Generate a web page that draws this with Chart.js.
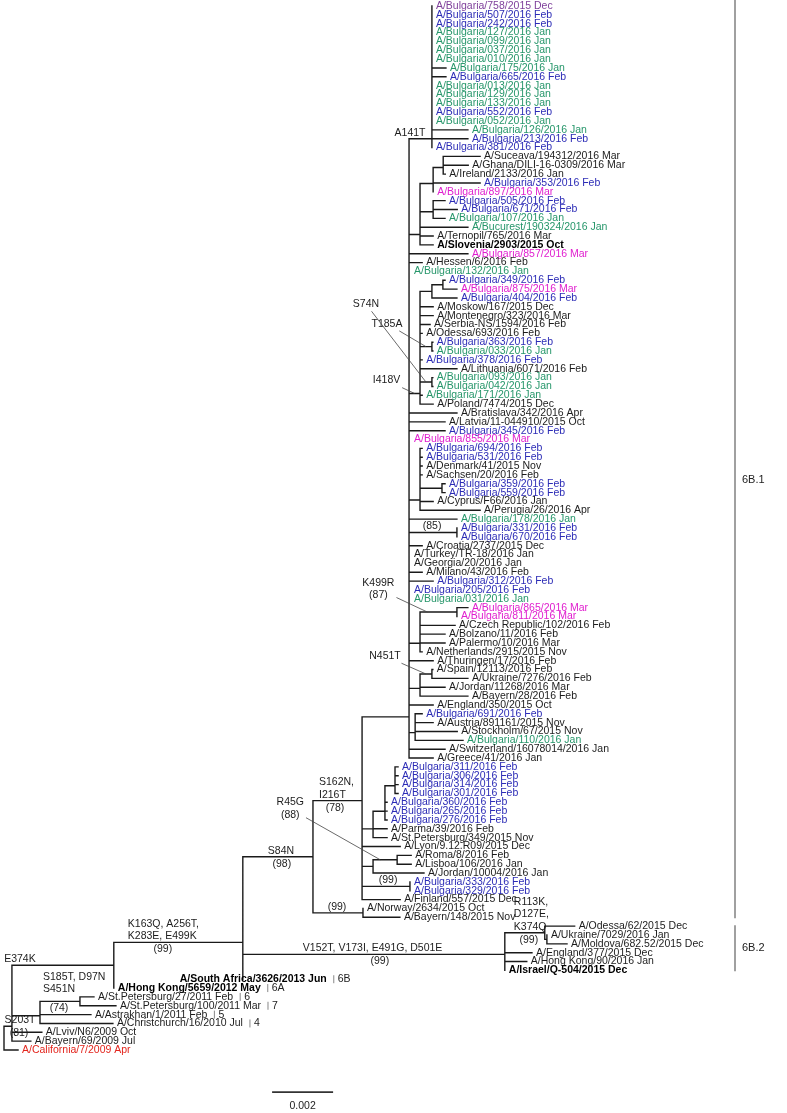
<!DOCTYPE html>
<html>
<head>
<meta charset="utf-8">
<script src="https://cdn.jsdelivr.net/npm/chart.js@4.4.1/dist/chart.umd.min.js"></script>
<style>
html,body{margin:0;padding:0;background:#fff}
#wrap{position:relative;width:787px;height:1113px}
</style>
</head>
<body>
<div id="wrap"><canvas id="tree"></canvas></div>
<script>
// strains, top to bottom (leaf order of the tree)
var strains = [
"A/Bulgaria/758/2015 Dec","A/Bulgaria/507/2016 Feb","A/Bulgaria/242/2016 Feb","A/Bulgaria/127/2016 Jan","A/Bulgaria/099/2016 Jan","A/Bulgaria/037/2016 Jan","A/Bulgaria/010/2016 Jan","A/Bulgaria/175/2016 Jan","A/Bulgaria/665/2016 Feb","A/Bulgaria/013/2016 Jan",
"A/Bulgaria/129/2016 Jan","A/Bulgaria/133/2016 Jan","A/Bulgaria/552/2016 Feb","A/Bulgaria/052/2016 Jan","A/Bulgaria/126/2016 Jan","A/Bulgaria/213/2016 Feb","A/Bulgaria/381/2016 Feb","A/Suceava/194312/2016 Mar","A/Ghana/DILI-16-0309/2016 Mar","A/Ireland/2133/2016 Jan",
"A/Bulgaria/353/2016 Feb","A/Bulgaria/897/2016 Mar","A/Bulgaria/505/2016 Feb","A/Bulgaria/671/2016 Feb","A/Bulgaria/107/2016 Jan","A/Bucurest/190324/2016 Jan","A/Ternopil/765/2016 Mar","A/Slovenia/2903/2015 Oct","A/Bulgaria/857/2016 Mar","A/Hessen/6/2016 Feb",
"A/Bulgaria/132/2016 Jan","A/Bulgaria/349/2016 Feb","A/Bulgaria/875/2016 Mar","A/Bulgaria/404/2016 Feb","A/Moskow/167/2015 Dec","A/Montenegro/323/2016 Mar","A/Serbia-NS/1594/2016 Feb","A/Odessa/693/2016 Feb","A/Bulgaria/363/2016 Feb","A/Bulgaria/033/2016 Jan",
"A/Bulgaria/378/2016 Feb","A/Lithuania/6071/2016 Feb","A/Bulgaria/093/2016 Jan","A/Bulgaria/042/2016 Jan","A/Bulgaria/171/2016 Jan","A/Poland/7474/2015 Dec","A/Bratislava/342/2016 Apr","A/Latvia/11-044910/2015 Oct","A/Bulgaria/345/2016 Feb","A/Bulgaria/855/2016 Mar",
"A/Bulgaria/694/2016 Feb","A/Bulgaria/531/2016 Feb","A/Denmark/41/2015 Nov","A/Sachsen/20/2016 Feb","A/Bulgaria/359/2016 Feb","A/Bulgaria/559/2016 Feb","A/Cyprus/F66/2016 Jan","A/Perugia/26/2016 Apr","A/Bulgaria/178/2016 Jan","A/Bulgaria/331/2016 Feb",
"A/Bulgaria/670/2016 Feb","A/Croatia/2737/2015 Dec","A/Turkey/TR-18/2016 Jan","A/Georgia/20/2016 Jan","A/Milano/43/2016 Feb","A/Bulgaria/312/2016 Feb","A/Bulgaria/205/2016 Feb","A/Bulgaria/031/2016 Jan","A/Bulgaria/865/2016 Mar","A/Bulgaria/811/2016 Mar",
"A/Czech Republic/102/2016 Feb","A/Bolzano/11/2016 Feb","A/Palermo/10/2016 Mar","A/Netherlands/2915/2015 Nov","A/Thuringen/17/2016 Feb","A/Spain/12113/2016 Feb","A/Ukraine/7276/2016 Feb","A/Jordan/11268/2016 Mar","A/Bayern/28/2016 Feb","A/England/350/2015 Oct",
"A/Bulgaria/691/2016 Feb","A/Austria/891161/2015 Nov","A/Stockholm/67/2015 Nov","A/Bulgaria/110/2016 Jan","A/Switzerland/16078014/2016 Jan","A/Greece/41/2016 Jan","A/Bulgaria/311/2016 Feb","A/Bulgaria/306/2016 Feb","A/Bulgaria/314/2016 Feb","A/Bulgaria/301/2016 Feb",
"A/Bulgaria/360/2016 Feb","A/Bulgaria/265/2016 Feb","A/Bulgaria/276/2016 Feb","A/Parma/39/2016 Feb","A/St.Petersburg/349/2015 Nov","A/Lyon/9.12.R09/2015 Dec","A/Roma/8/2016 Feb","A/Lisboa/106/2016 Jan","A/Jordan/10004/2016 Jan","A/Bulgaria/333/2016 Feb",
"A/Bulgaria/329/2016 Feb","A/Finland/557/2015 Dec","A/Norway/2634/2015 Oct","A/Bayern/148/2015 Nov","A/Odessa/62/2015 Dec","A/Ukraine/7029/2016 Jan","A/Moldova/682.52/2015 Dec","A/England/377/2015 Dec","A/Hong Kong/90/2016 Jan","A/Israel/Q-504/2015 Dec",
"A/South Africa/3626/2013 Jun","A/Hong Kong/5659/2012 May","A/St.Petersburg/27/2011 Feb","A/St.Petersburg/100/2011 Mar","A/Astrakhan/1/2011 Feb","A/Christchurch/16/2010 Jul","A/Lviv/N6/2009 Oct","A/Bayern/69/2009 Jul","A/California/7/2009 Apr"
];

// one letter per strain: D = Bulgaria Dec 2015, J = Jan 2016, F = Feb 2016, M = Mar 2016,
// K = other, B = reference strain, R = root strain
var groups = ("DFFJJJJJFJ" + "JJFJJFFKKK" + "FMFFJJKBMK" + "JFMFKKKKFJ" + "FKJJJKKKFM" +
              "FFKKFFKKJF" + "FKKKKFFJMM" + "KKKKKKKKKK" + "FKKJKKFFFF" + "FFFKKKKKKF" +
              "FKKKKKKKKB" + "BBKKKKKKR").split("");

// tree topology, leaves are strain indices, branch lengths in 0.0001 substitutions/site
var cladeA141T = "(0:0,1:0,2:0,3:0,4:0,5:0,6:0,7:4.6,8:4.6,9:0,10:0,11:0,12:0,13:0,14:11.8,15:11.8,16:0)nA141T:7.5";
var clade420 = "(((17:12.1,18:8.2,19:0.7):3.3,20:15.4,21:0):4.3,(22:3.9,23:7.9,24:3.9):4.3,25:15.7,26:4.3,27:4.3):3.6";
var cladeI418V = "(((31:0.7,32:4.6):3.6,33:8.2):3.9,34:4.3,35:4.3,36:3.3,37:0.7,(38:0.3,39:0.3)nT185A:3.9,40:0.7,41:12.1,(42:0.3,43:0.3)nS74N:3.9,44:0.7,45:4.3)nI418V:3.6";
var clade694 = "(50:0.7,51:0.7,52:0.7,53:0.7,(54:1.0,55:1.0):7.2,56:4.3,57:19.7):3.6";
var cladeK499R = "((68:3.6,69:0)nK499R:12.1,70:11.5,71:8.2,72:8.2,73:0.7):3.6";
var cladeN451T = "((75:0.3,76:11.8)nN451T:3.9,77:8.2,78:15.7):3.6";
var clade691 = "((80:2.3,81:5.9,82:13.8,83:15.7):2.0,84:11.8,85:7.9):0";
var clade311 = "(((86:1.0,87:1.0,88:1.0,89:1.0):3.3,90:0.7,91:0.7,92:0.7):3.9,93:4.6,94:4.6):3.6";
var cladeR45G = "((96:4.6,97:4.6)nR45G:7.9,98:16.7):3.6";
var clade6B2 = "((104:9.8,(105:0,106:6.6):0.7)nR113K:13.1,107:8.9,(108:7.2,109:0):0)nV152T:85.9";

var backbone = "(" + cladeA141T + "," + clade420 + ",28:19.3,29:4.3,30:0.3," + cladeI418V +
  ",46:15.7,47:11.8,48:11.8,49:0.3," + clade694 + ",58:15.7,(59:0,60:0)n85:15.7,61:4.3,62:0.3,63:0.3,64:4.3,65:7.9,66:0.3,67:0.3," +
  cladeK499R + ",74:7.9," + cladeN451T + ",79:7.9):0";
var clade6B1 = "(((" + backbone + "," + clade691 + "):15.4,(" + clade311 + ",95:12.5," + cladeR45G +
  ",(99:0,100:0)n99a:15.7,101:12.5):0)nS162N:16.1,(102:0,103:12.1)n99b:16.4)nS84N:23.0";
var newick = "((((" + clade6B1 + "," + clade6B2 + ",110:-22.0)nK163Q:42.3,111:0)nE374K:33.4," +
  "((112:4.6,113:11.8)nS185T:13.1,114:16.7,115:23.9):9.2,116:9.8,117:6.2)nS203T:2.6,118:4.6)";

// clade designations (row = where the name sits, in strain rows)
var cladeBars = [{from: 0, to: 103, label: "6B.1", row: 53.6}, {from: 104, to: 109, label: "6B.2", row: 106.5}];
var lineageTags = [[110, "6B"], [111, "6A"], [112, "6"], [113, "7"], [114, "5"], [115, "4"]];

// amino acid substitutions above the branch, bootstrap below
var branchNotes = [
  {node: "nA141T", above: ["A141T"], ax: 1, align: "center"},
  {node: "n85", above: ["(85)"], ax: 23, align: "center"},
  {node: "n99a", above: ["(99)"], ax: 26, align: "center"},
  {node: "n99b", above: ["(99)"], ax: 24, align: "center"},
  {node: "nS162N", above: ["S162N,", "I216T"], ax: 6, align: "left", below: ["(78)"], bx: 22},
  {node: "nS84N", above: ["S84N"], ax: 25, align: "left", below: ["(98)"], bx: 39},
  {node: "nK163Q", above: ["K163Q, A256T,", "K283E, E499K"], ax: 14, align: "left", below: ["(99)"], bx: 49},
  {node: "nV152T", above: ["V152T, V173I, E491G, D501E"], ax: 60, align: "left", below: ["(99)"], bx: 137},
  {node: "nR113K", above: ["R113K,", "D127E,", "K374Q"], ax: 9, align: "left", below: ["(99)"], bx: 24},
  {node: "nS203T", above: ["S203T"], ax: 16, align: "center", below: ["(81)"], bx: 15},
  {node: "nE374K", above: ["E374K"], ax: 8, align: "center"},
  {node: "nS185T", above: ["S185T, D97N", "S451N"], ax: 3, align: "left", lift: 6, below: ["(74)"], bx: 19}
];
var leaderNotes = [
  {node: "nT185A", text: ["T185A"], t: 0.5, tx: -39, ty: -23},
  {node: "nS74N", text: ["S74N"], t: 0.5, tx: -60, ty: -78},
  {node: "nI418V", text: ["I418V"], t: 0.5, tx: -28, ty: -13},
  {node: "nK499R", text: ["K499R", "(87)"], t: 0.2, tx: -49, ty: -23},
  {node: "nN451T", text: ["N451T"], t: 0.5, tx: -41, ty: -18},
  {node: "nR45G", text: ["R45G", "(88)"], t: 0.3, tx: -90, ty: -51}
];

var colours = {D: "#7e3f9a", F: "#2c2cb6", J: "#26966a", M: "#e01fcf", K: "#1c1c1c", B: "#000000", R: "#e3251d"};

function parseNewick(s) {
  s = s.replace(/\s+/g, "");
  var i = 0;
  function num() {
    var m = /^-?[\d.]+/.exec(s.slice(i));
    i += m[0].length;
    return parseFloat(m[0]);
  }
  function node() {
    var n = {children: [], len: 0, name: ""};
    if (s[i] === "(") {
      i++;
      do { n.children.push(node()); } while (s[i++] === ",");
      var m = /^[A-Za-z0-9]*/.exec(s.slice(i));
      n.name = m[0];
      i += m[0].length;
    } else {
      n.leaf = num();
    }
    if (s[i] === ":") { i++; n.len = num(); }
    return n;
  }
  return node();
}

var root = parseNewick(newick);
var named = {};
var leafDepth = [];
var segments = [];

// parent sits halfway between the previous children and the next one (multifurcations drawn as ladders)
function layout(n, parentDepth) {
  n.parentDepth = parentDepth;
  n.depth = parentDepth + n.len;
  if (n.name) named[n.name] = n;
  if (n.children.length) {
    n.children.forEach(function (c) { layout(c, n.depth); });
    var y = n.children[0].y, lo = y, hi = y;
    n.children.forEach(function (c, k) {
      if (k > 0) y = (y + c.y) / 2;
      lo = Math.min(lo, c.y); hi = Math.max(hi, c.y);
    });
    n.y = y;
    segments.push({x: n.depth, y: lo}, {x: n.depth, y: hi}, {x: null, y: null});
    // negative branches run back under their own label and are left undrawn
    n.children.forEach(function (c) {
      if (c.len > 0) segments.push({x: n.depth, y: c.y}, {x: c.depth, y: c.y}, {x: null, y: null});
    });
  } else {
    n.y = n.leaf;
    leafDepth[n.leaf] = n.depth;
  }
}
layout(root, -root.len);

var FONT = "'Liberation Sans', Arial, sans-serif";

var labels = {
  id: "treeLabels",
  afterDatasetsDraw: function (chart) {
    var ctx = chart.ctx, xs = chart.scales.x, ys = chart.scales.y;
    ctx.save();
    ctx.textBaseline = "middle";
    ctx.textAlign = "left";
    var ends = [];
    strains.forEach(function (name, i) {
      var g = groups[i];
      ctx.font = (g === "B" ? "bold " : "") + "10.5px " + FONT;
      ctx.fillStyle = colours[g];
      var x = xs.getPixelForValue(leafDepth[i]) + 4;
      ctx.fillText(name, x, ys.getPixelForValue(i));
      ends[i] = x + ctx.measureText(name).width;
    });

    // lineage tags after the reference strains
    ctx.font = "10.5px " + FONT;
    lineageTags.forEach(function (t) {
      var y = ys.getPixelForValue(t[0]), x = ends[t[0]] + 7;
      ctx.strokeStyle = "#888"; ctx.lineWidth = 1;
      ctx.beginPath(); ctx.moveTo(x, y - 4); ctx.lineTo(x, y + 4); ctx.stroke();
      ctx.fillStyle = "#222";
      ctx.fillText(t[1], x + 4, y);
    });

    // clade brackets
    cladeBars.forEach(function (c) {
      var y0 = c.from === 0 ? 0 : ys.getPixelForValue(c.from - 0.1);
      var y1 = ys.getPixelForValue(c.to + 0.1);
      ctx.strokeStyle = "#a0a0a0"; ctx.lineWidth = 2;
      ctx.beginPath(); ctx.moveTo(735, y0); ctx.lineTo(735, y1); ctx.stroke();
      ctx.fillStyle = "#222"; ctx.font = "11px " + FONT;
      ctx.fillText(c.label, 742, ys.getPixelForValue(c.row));
    });

    // substitutions written on the branches
    ctx.font = "10.5px " + FONT;
    ctx.fillStyle = "#1c1c1c";
    branchNotes.forEach(function (b) {
      var n = named[b.node];
      var x0 = xs.getPixelForValue(n.parentDepth), py = ys.getPixelForValue(n.y);
      var up = b.above || [], down = b.below || [], lift = b.lift || 0;
      ctx.textAlign = b.align;
      up.forEach(function (line, k) {
        ctx.fillText(line, x0 + b.ax, py - 6 - lift - (up.length - 1 - k) * 12.5);
      });
      ctx.textAlign = "center";
      down.forEach(function (line, k) {
        ctx.fillText(line, x0 + b.bx, py + 7 + k * 12.5);
      });
    });

    // substitutions with leader lines
    ctx.textAlign = "center";
    leaderNotes.forEach(function (b) {
      var n = named[b.node];
      var x0 = xs.getPixelForValue(n.parentDepth), x1 = xs.getPixelForValue(n.depth);
      var ex = x0 + (x1 - x0) * b.t, ey = ys.getPixelForValue(n.y);
      var cx = ex + b.tx, cy = ey + b.ty;
      var w = 0;
      b.text.forEach(function (line) { w = Math.max(w, ctx.measureText(line).width); });
      var h = b.text.length * 12.5;
      b.text.forEach(function (line, k) {
        ctx.fillText(line, cx, cy - (b.text.length - 1) * 6.25 + k * 12.5);
      });
      var dx = ex - cx, dy = ey - cy;
      var s = Math.min((w / 2 + 2) / Math.abs(dx || 1e-6), (h / 2 + 1) / Math.abs(dy || 1e-6));
      ctx.strokeStyle = "#444"; ctx.lineWidth = 0.8;
      ctx.beginPath(); ctx.moveTo(cx + dx * s, cy + dy * s); ctx.lineTo(ex, ey); ctx.stroke();
    });

    // scale bar caption
    var sb = chart.data.datasets[1].data;
    ctx.fillText("0.002", (xs.getPixelForValue(sb[0].x) + xs.getPixelForValue(sb[1].x)) / 2,
      ys.getPixelForValue(sb[0].y) + 14);
    ctx.restore();
  }
};

var unit = 0.0001;      // one branch-length unit in substitutions/site
var scaleBar = 0.002;
var barStart = 87.9, barRow = 122.75;

new Chart(document.getElementById("tree"), {
  type: "scatter",
  data: {
    datasets: [
      {
        label: "branches",
        data: segments,
        showLine: true,
        spanGaps: false,
        borderColor: "#1a1a1a",
        borderWidth: 1.4,
        borderCapStyle: "square",
        pointRadius: 0,
        pointHoverRadius: 0,
        tension: 0
      },
      {
        label: "scale",
        data: [{x: barStart, y: barRow}, {x: barStart + scaleBar / unit, y: barRow}],
        showLine: true,
        borderColor: "#333",
        borderWidth: 1.8,
        pointRadius: 0
      }
    ]
  },
  plugins: [labels],
  options: {
    responsive: true,
    maintainAspectRatio: false,
    animation: false,
    events: [],
    layout: {padding: 0},
    plugins: {legend: {display: false}, tooltip: {enabled: false}},
    scales: {
      x: {type: "linear", display: false, min: -4 / 3.05, max: -4 / 3.05 + 787 / 3.05},
      y: {type: "linear", display: false, reverse: true, min: -6 / 8.8475, max: -6 / 8.8475 + 1113 / 8.8475}
    }
  }
});
</script>
</body>
</html>
